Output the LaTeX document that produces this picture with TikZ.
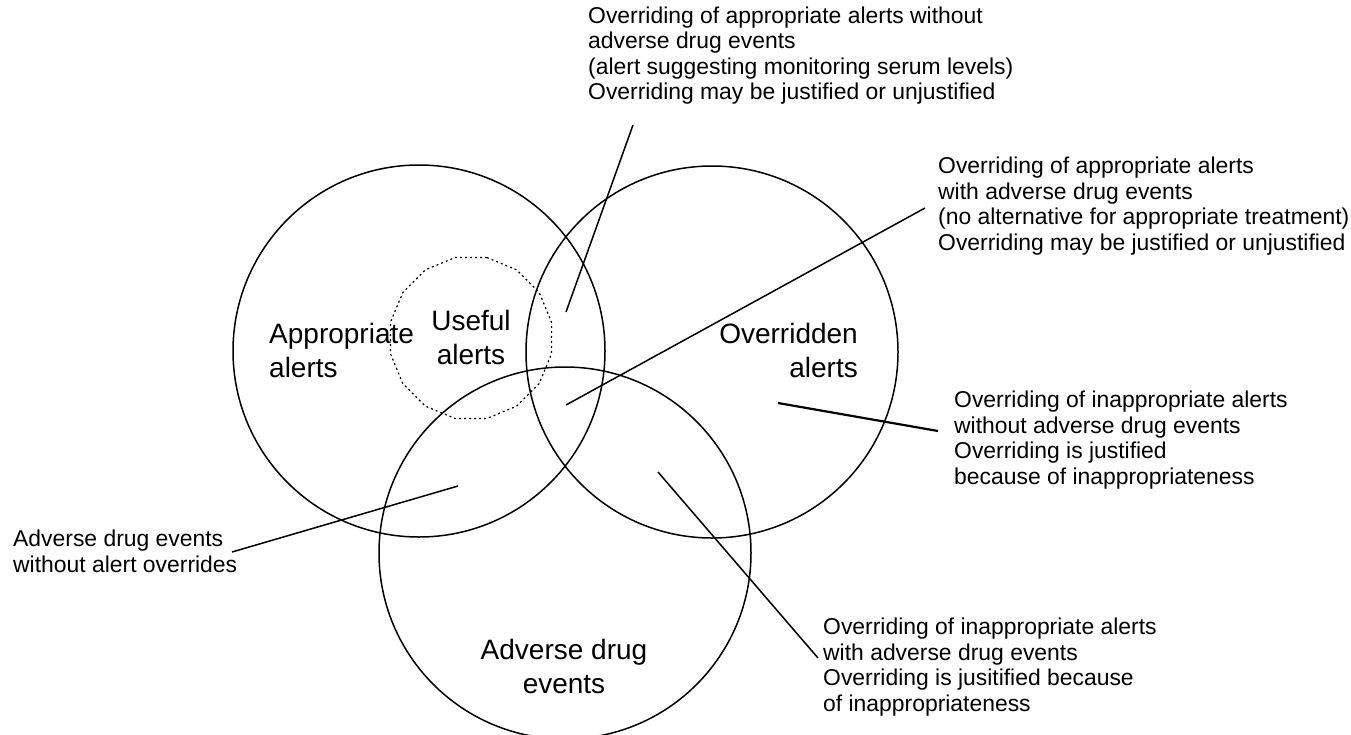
\documentclass[tikz,border=0pt]{standalone}
\usepackage{fontspec}
\setmainfont{Liberation Sans}
\usetikzlibrary{shapes.geometric}
\tikzset{
  venn/.style={circle, draw, line width=1.5pt, minimum size=372pt, inner sep=0pt},
  usefulpoly/.style={regular polygon, regular polygon sides=16, draw, line width=1.2pt,
    dash pattern=on 2pt off 3pt, minimum size=164pt, inner sep=0pt},
  biglbl/.style={inner sep=0pt, font=\fontsize{28}{34}\selectfont},
  smalllbl/.style={inner sep=0pt, anchor=base west, align=left, font=\fontsize{22.9}{25.4}\selectfont},
  leader/.style={line width=1.5pt},
}
\begin{document}
\begin{tikzpicture}[x=1pt,y=-1pt]
\useasboundingbox (0,0) rectangle (1351,734);
% circles
\node[venn] (appr) at (419,351) {};
\node[venn] (over) at (712,352) {};
\node[venn] (ade)  at (565,553) {};
\node[usefulpoly] (useful) at (471,338) {};
% circle labels (anchor = baseline of last line)
\node[biglbl, anchor=base west, align=left] (lappr) at (269,377) {Appropriate\\alerts};
\node[biglbl, anchor=base, align=center] (luseful) at (471,364) {Useful\\alerts};
\node[biglbl, anchor=base east, align=right] (lover) at (858,377) {Overridden\\alerts};
\node[biglbl, anchor=base, align=center] (lade) at (564,693) {Adverse drug\\events};
% annotation texts (anchor = baseline of last line)
\node[smalllbl] (t1) at (588,99.5) {Overriding of appropriate alerts without\\adverse drug events\\(alert suggesting monitoring serum levels)\\Overriding may be justified or unjustified};
\node[smalllbl] (t2) at (938,250) {Overriding of appropriate alerts\\with adverse drug events\\(no alternative for appropriate treatment)\\Overriding may be justified or unjustified};
\node[smalllbl] (t3) at (954,484) {Overriding of inappropriate alerts\\without adverse drug events\\Overriding is justified\\because of inappropriateness};
\node[smalllbl] (t4) at (823,711) {Overriding of inappropriate alerts\\with adverse drug events\\Overriding is jusitified because\\of inappropriateness};
\node[smalllbl] (t5) at (13,572) {Adverse drug events\\without alert overrides};
% leader end points
\coordinate (e1a) at (633,125);  \coordinate (e1b) at (566,312);
\coordinate (e2a) at (925,208);  \coordinate (e2b) at (566,405);
\coordinate (e3a) at (938,431);  \coordinate (e3b) at (778,403);
\coordinate (e4a) at (818,658);  \coordinate (e4b) at (658,472);
\coordinate (e5a) at (232,552);  \coordinate (e5b) at (458,486);
% leaders
\draw[leader] (e1a) -- (e1b);
\draw[leader] (e2a) -- (e2b);
\draw[leader, line width=2.2pt] (e3a) -- (e3b);
\draw[leader] (e4a) -- (e4b);
\draw[leader] (e5a) -- (e5b);
\end{tikzpicture}
\end{document}
